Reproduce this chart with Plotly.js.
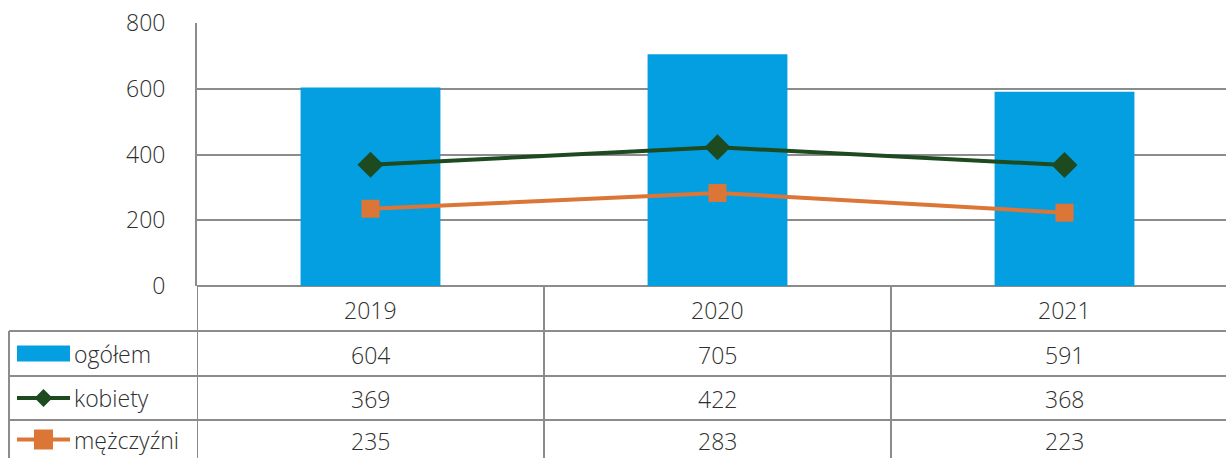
<!DOCTYPE html>
<html><head><meta charset="utf-8">
<script src="https://cdn.plot.ly/plotly-3.0.1.min.js"></script>
<style>html,body{margin:0;padding:0;background:#fff}#chart{width:1226px;height:458px}</style>
</head><body><div id="chart"></div>
<script>
const years = ['2019', '2020', '2021'];
const ogolem = [604, 705, 591];
const kobiety = [369, 422, 368];
const mezczyzni = [235, 283, 223];
const seriesNames = ['ogółem', 'kobiety', 'mężczyźni'];
const yTicks = [0, 200, 400, 600, 800];

const W = 1226, H = 458, L = 197, T = 23, B0 = 286;
const PW = W - L, PH = B0 - T;
const catW = 347;
const xMax = 2.5 - (L + 3 * catW - W) / catW;
const C_BAR = '#039fe1', C_K = '#1e4a20', C_M = '#dc7637', GRID = '#8c8c8c', TXT = '#2e2e2e';
const FONT = 'Open Sans, Noto Sans, sans-serif';
const FS = 23, FW = 300;

const px = x => (x - L) / PW;
const py = y => (B0 - y) / PH;

const traces = [
  {type: 'bar', x: [0, 1, 2], y: ogolem, name: seriesNames[0], marker: {color: C_BAR}, width: 0.403, hoverinfo: 'skip'},
  {type: 'scatter', mode: 'lines+markers', x: [0, 1, 2], y: kobiety, name: seriesNames[1],
   line: {color: C_K, width: 4}, marker: {symbol: 'diamond', size: 20, color: C_K}, hoverinfo: 'skip'},
  {type: 'scatter', mode: 'lines+markers', x: [0, 1, 2], y: mezczyzni, name: seriesNames[2],
   line: {color: C_M, width: 4}, marker: {symbol: 'square', size: 18, color: C_M}, hoverinfo: 'skip'}
];

const rowTop = [286, 331, 376, 420, 465];
const rowTextY = [309.5, 354.5, 399, 440.5];
const shapes = [];
const annotations = [];
const fnt = {family: FONT, size: FS, color: TXT, weight: FW};
const ln = (x0, y0, x1, y1) => shapes.push({type: 'line', xref: 'paper', yref: 'paper', x0: px(x0), y0: py(y0), x1: px(x1), y1: py(y1), line: {color: GRID, width: 2}});
for (let r = 1; r < rowTop.length - 1; r++) ln(9, rowTop[r], W, rowTop[r]);
ln(9, rowTop[1], 9, H + 5);
for (let i = 0; i < years.length; i++) {
  shapes.push({type: 'line', xref: 'x', yref: 'paper', x0: i - 0.5, x1: i - 0.5, y0: py(B0), y1: py(H + 5), line: {color: GRID, width: 2}});
}
years.forEach((yr, i) => annotations.push({xref: 'x', yref: 'paper', x: i, y: py(rowTextY[0]), text: yr, showarrow: false, font: fnt, yanchor: 'middle'}));
const rows = [ogolem, kobiety, mezczyzni];
rows.forEach((vals, r) => {
  const ty = rowTextY[r + 1];
  vals.forEach((v, i) => annotations.push({xref: 'x', yref: 'paper', x: i, y: py(ty), text: String(v), showarrow: false, font: fnt, yanchor: 'middle'}));
  annotations.push({xref: 'paper', yref: 'paper', x: px(72), y: py(ty - 1), text: seriesNames[r], showarrow: false, xanchor: 'left', yanchor: 'middle', font: fnt});
});
{
  const cy = (rowTop[1] + rowTop[2]) / 2;
  shapes.push({type: 'rect', xref: 'paper', yref: 'paper', x0: px(17), x1: px(70), y0: py(cy - 8), y1: py(cy + 8), fillcolor: C_BAR, line: {width: 0}});
  const cy2 = (rowTop[2] + rowTop[3]) / 2;
  shapes.push({type: 'line', xref: 'paper', yref: 'paper', x0: px(17), x1: px(70), y0: py(cy2), y1: py(cy2), line: {color: C_K, width: 4}});
  shapes.push({type: 'path', xref: 'paper', yref: 'paper', path: `M ${px(43.5)} ${py(cy2 - 9)} L ${px(52.5)} ${py(cy2)} L ${px(43.5)} ${py(cy2 + 9)} L ${px(34.5)} ${py(cy2)} Z`, fillcolor: C_K, line: {width: 0}});
  const cy3 = (rowTop[3] + rowTop[4]) / 2 - 3;
  shapes.push({type: 'line', xref: 'paper', yref: 'paper', x0: px(17), x1: px(70), y0: py(cy3), y1: py(cy3), line: {color: C_M, width: 4}});
  shapes.push({type: 'rect', xref: 'paper', yref: 'paper', x0: px(34), x1: px(53), y0: py(cy3 - 10), y1: py(cy3 + 10), fillcolor: C_M, line: {width: 0}});
}

const layout = {
  width: W, height: H,
  margin: {l: L, r: 0, t: T, b: H - B0, pad: 0},
  paper_bgcolor: '#fff', plot_bgcolor: '#fff',
  showlegend: false,
  font: fnt,
  xaxis: {range: [-0.5, xMax], showticklabels: false, showgrid: false, zeroline: false, showline: false, ticks: '', fixedrange: true},
  yaxis: {range: [0, 800], tickvals: yTicks, ticktext: yTicks.map(String), showgrid: true, gridcolor: GRID, gridwidth: 2,
          zeroline: true, zerolinecolor: GRID, zerolinewidth: 2, showline: true, linecolor: GRID, linewidth: 2,
          ticks: '', ticklabelstandoff: 25, tickfont: fnt, fixedrange: true},
  shapes: shapes,
  annotations: annotations
};
Plotly.newPlot('chart', traces, layout, {staticPlot: true, displayModeBar: false});
</script></body></html>
